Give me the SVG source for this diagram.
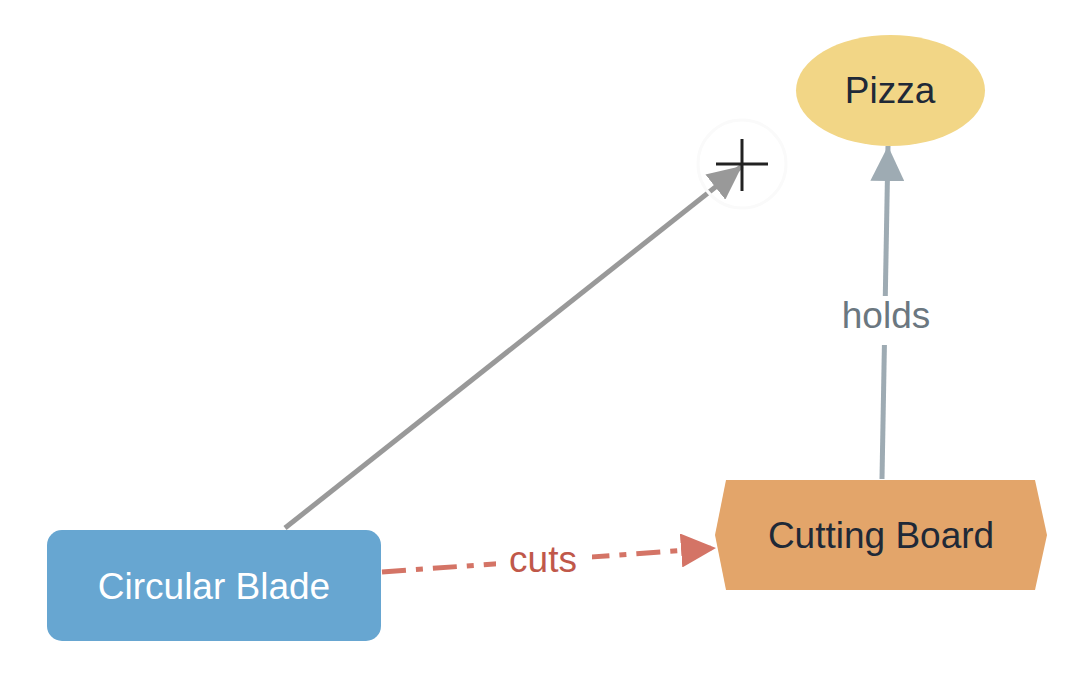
<svg xmlns="http://www.w3.org/2000/svg" width="1082" height="688" viewBox="0 0 1082 688">
<style>
text{font-family:"Liberation Sans",Arial,sans-serif;font-size:37px;text-anchor:middle}
.dark{fill:#1f2937}
</style>
<defs>
<marker id="ahGray" markerUnits="userSpaceOnUse" markerWidth="34" markerHeight="32" refX="34" refY="16" orient="auto"><path d="M0,0 L34,16 L0,32 Z" fill="#999999"/></marker>
<marker id="ahHolds" markerUnits="userSpaceOnUse" markerWidth="35" markerHeight="34" refX="35" refY="17" orient="auto"><path d="M0,0 L35,17 L0,34 Z" fill="#9eabb3"/></marker>
<marker id="ahCuts" markerUnits="userSpaceOnUse" markerWidth="35" markerHeight="34" refX="35" refY="17" orient="auto"><path d="M0,0 L35,17 L0,34 Z" fill="#d47466"/></marker>
</defs>
<rect width="1082" height="688" fill="#ffffff"/>
<g id="connectors">
<line x1="285" y1="528" x2="742" y2="166" stroke="#999999" stroke-width="5" marker-end="url(#ahGray)"/>
<line x1="882" y1="479" x2="888" y2="146" stroke="#9eabb3" stroke-width="5" marker-end="url(#ahHolds)"/>
<rect x="834" y="296" width="104" height="49" fill="#ffffff"/>
<text x="886" y="328" fill="#6b7780">holds</text>
<line x1="382" y1="572" x2="716" y2="548" stroke="#d47466" stroke-width="5" stroke-dasharray="24 10 7 10" marker-end="url(#ahCuts)"/>
<rect x="496" y="540" width="96" height="40" fill="#ffffff"/>
<text x="543" y="572" fill="#c0584a">cuts</text>
</g>
<g id="target-marker">
<circle cx="742" cy="164" r="44" fill="none" stroke="#fafafa" stroke-width="3"/>
<line x1="716" y1="164" x2="768" y2="164" stroke="#222222" stroke-width="3"/>
<line x1="742" y1="139" x2="742" y2="191" stroke="#222222" stroke-width="3"/>
</g>
<g id="node-pizza">
<ellipse cx="890.5" cy="90.5" rx="94.5" ry="55.5" fill="#f2d686"/>
<text x="890" y="103" class="dark">Pizza</text>
</g>
<g id="node-board">
<polygon points="726,480 1035,480 1047,535 1035,590 726,590 715,535" fill="#e3a56a"/>
<text x="881" y="548" class="dark">Cutting Board</text>
</g>
<g id="node-blade">
<rect x="47" y="530" width="334" height="111" rx="15" fill="#67a6d1"/>
<text x="214" y="599" fill="#ffffff">Circular Blade</text>
</g>
</svg>
